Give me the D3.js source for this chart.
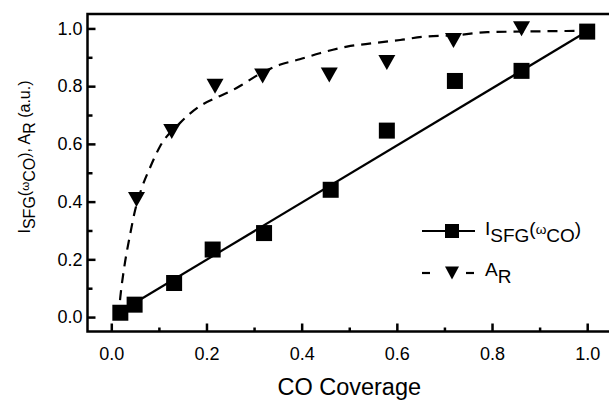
<!DOCTYPE html>
<head>
  <meta charset="utf-8">
  <script src="https://d3js.org/d3.v7.min.js"></script>
  <style>
    body { margin:0; background:#fff; }
    text { font-family: "Liberation Sans", Arial, sans-serif; fill:#000; }
  </style>
</head>
<body>
<script>
var coverage = [0.019, 0.049, 0.132, 0.213, 0.321, 0.461, 0.579, 0.722, 0.862, 1.0];
var sfg      = [0.015, 0.043, 0.118, 0.234, 0.291, 0.441, 0.646, 0.818, 0.853, 0.989];
var arCoverage = [0.053, 0.127, 0.218, 0.318, 0.458, 0.579, 0.719, 0.862];
var ar         = [0.407, 0.643, 0.800, 0.835, 0.839, 0.882, 0.958, 0.999];

// linear fit through the SFG points
var lineX = [0.04, 1.0];
var lineY = [0.04, 0.99];

// dashed fit curve for A_R
var curveX = [0.015, 0.019, 0.027, 0.04, 0.05, 0.064, 0.082, 0.102, 0.144, 0.19, 0.218, 0.256, 0.274, 0.302, 0.354, 0.396, 0.438, 0.495, 0.551, 0.607, 0.66, 0.72, 0.79, 0.9, 1.0];
var curveY = [0.0, 0.07, 0.17, 0.29, 0.37, 0.447, 0.52, 0.59, 0.672, 0.735, 0.758, 0.787, 0.804, 0.833, 0.874, 0.893, 0.914, 0.937, 0.949, 0.96, 0.972, 0.976, 0.987, 0.99, 0.992];

var xTicks = [0, 0.2, 0.4, 0.6, 0.8, 1.0];
var xMinor = [0.1, 0.3, 0.5, 0.7, 0.9];
var yTicks = [0, 0.2, 0.4, 0.6, 0.8, 1.0];
var yMinor = [0.1, 0.3, 0.5, 0.7, 0.9];

var width = 609, height = 401;

var svg = d3.select("body").append("svg")
    .attr("width", width)
    .attr("height", height);

var x = d3.scaleLinear().domain([-0.05, 1.05]).range([87.5, 611]);
var y = d3.scaleLinear().domain([-0.05, 1.05]).range([331.5, 14]);

// frame
svg.append("rect")
    .attr("x", x(-0.05)).attr("y", y(1.05))
    .attr("width", x(1.05) - x(-0.05)).attr("height", y(-0.05) - y(1.05))
    .attr("fill", "none").attr("stroke", "#000").attr("stroke-width", 2.5);

function styleAxis(g) {
  g.select(".domain").remove();
  g.selectAll(".tick line").attr("stroke", "#000").attr("stroke-width", 2.5);
  g.selectAll("text").attr("font-size", 18);
}

svg.append("g")
    .attr("transform", "translate(0," + y(-0.05) + ")")
    .call(d3.axisBottom(x).tickValues(xTicks).tickSize(-8).tickPadding(16).tickFormat(d3.format(".1f")))
    .call(styleAxis);
svg.append("g")
    .attr("transform", "translate(0," + y(-0.05) + ")")
    .call(d3.axisBottom(x).tickValues(xMinor).tickSize(-4).tickFormat(""))
    .call(styleAxis);

svg.append("g")
    .attr("transform", "translate(" + x(-0.05) + ",0)")
    .call(d3.axisLeft(y).tickValues(yTicks).tickSize(-8).tickPadding(5).tickFormat(d3.format(".1f")))
    .call(styleAxis);
svg.append("g")
    .attr("transform", "translate(" + x(-0.05) + ",0)")
    .call(d3.axisLeft(y).tickValues(yMinor).tickSize(-5).tickFormat(""))
    .call(styleAxis);

// fits
var line = d3.line().x(function(d) { return x(d[0]); }).y(function(d) { return y(d[1]); });

svg.append("path")
    .datum(d3.zip(lineX, lineY))
    .attr("d", line)
    .attr("fill", "none").attr("stroke", "#000").attr("stroke-width", 2.2);

svg.append("path")
    .datum(d3.zip(curveX, curveY))
    .attr("d", line.curve(d3.curveMonotoneX))
    .attr("fill", "none").attr("stroke", "#000").attr("stroke-width", 2.2)
    .attr("stroke-dasharray", "10,7");

// markers
function tri(cx, cy, w, h) {
  return "M" + (cx - w / 2) + "," + (cy - h / 2) + "L" + (cx + w / 2) + "," + (cy - h / 2) + "L" + cx + "," + (cy + h / 2) + "Z";
}

svg.selectAll(".tri")
    .data(d3.zip(arCoverage, ar))
    .enter().append("path")
    .attr("class", "tri")
    .attr("d", function(d) { return tri(x(d[0]), y(d[1]), 17, 15); })
    .attr("fill", "#000");

var sq = 16;
svg.selectAll(".sq")
    .data(d3.zip(coverage, sfg))
    .enter().append("rect")
    .attr("class", "sq")
    .attr("x", function(d) { return x(d[0]) - sq / 2; })
    .attr("y", function(d) { return y(d[1]) - sq / 2; })
    .attr("width", sq).attr("height", sq)
    .attr("fill", "#000");

// axis titles
svg.append("text")
    .attr("x", (x(-0.05) + x(1.05)) / 2).attr("y", 395)
    .attr("text-anchor", "middle").attr("font-size", 23.5)
    .text("CO Coverage");

function sfgLabel(t, size, sub) {
  t.append("tspan").text("I");
  t.append("tspan").attr("dy", sub).text("SFG");
  t.append("tspan").attr("dy", -sub).text("(");
  t.append("tspan").attr("font-size", size * 0.72).attr("dy", -1).text("\u03c9");
  t.append("tspan").attr("font-size", size).attr("dy", sub + 1).text("CO");
  t.append("tspan").attr("dy", -sub).text(")");
}

var yl = svg.append("text")
    .attr("transform", "translate(30,157) rotate(-90)")
    .attr("text-anchor", "middle").attr("font-size", 16);
sfgLabel(yl, 16, 5);
yl.append("tspan").text(", A");
yl.append("tspan").attr("dy", 5).text("R");
yl.append("tspan").attr("dy", -5).text(" (a.u.)");

// legend
var lg = svg.append("g");
lg.append("line").attr("x1", 422).attr("x2", 475).attr("y1", 231).attr("y2", 231)
    .attr("stroke", "#000").attr("stroke-width", 2.2);
lg.append("rect").attr("x", 452 - 7).attr("y", 231 - 7).attr("width", 14).attr("height", 14).attr("fill", "#000");
lg.append("line").attr("x1", 422).attr("x2", 430).attr("y1", 273).attr("y2", 273)
    .attr("stroke", "#000").attr("stroke-width", 2.2);
lg.append("line").attr("x1", 466).attr("x2", 474).attr("y1", 273).attr("y2", 273)
    .attr("stroke", "#000").attr("stroke-width", 2.2);
lg.append("path").attr("d", tri(452, 273, 14, 13)).attr("fill", "#000");

var t1 = lg.append("text").attr("x", 485).attr("y", 235).attr("font-size", 19);
sfgLabel(t1, 19, 7);
var t2 = lg.append("text").attr("x", 485).attr("y", 276).attr("font-size", 19);
t2.append("tspan").text("A");
t2.append("tspan").attr("dy", 7).text("R");
</script>
</body>
